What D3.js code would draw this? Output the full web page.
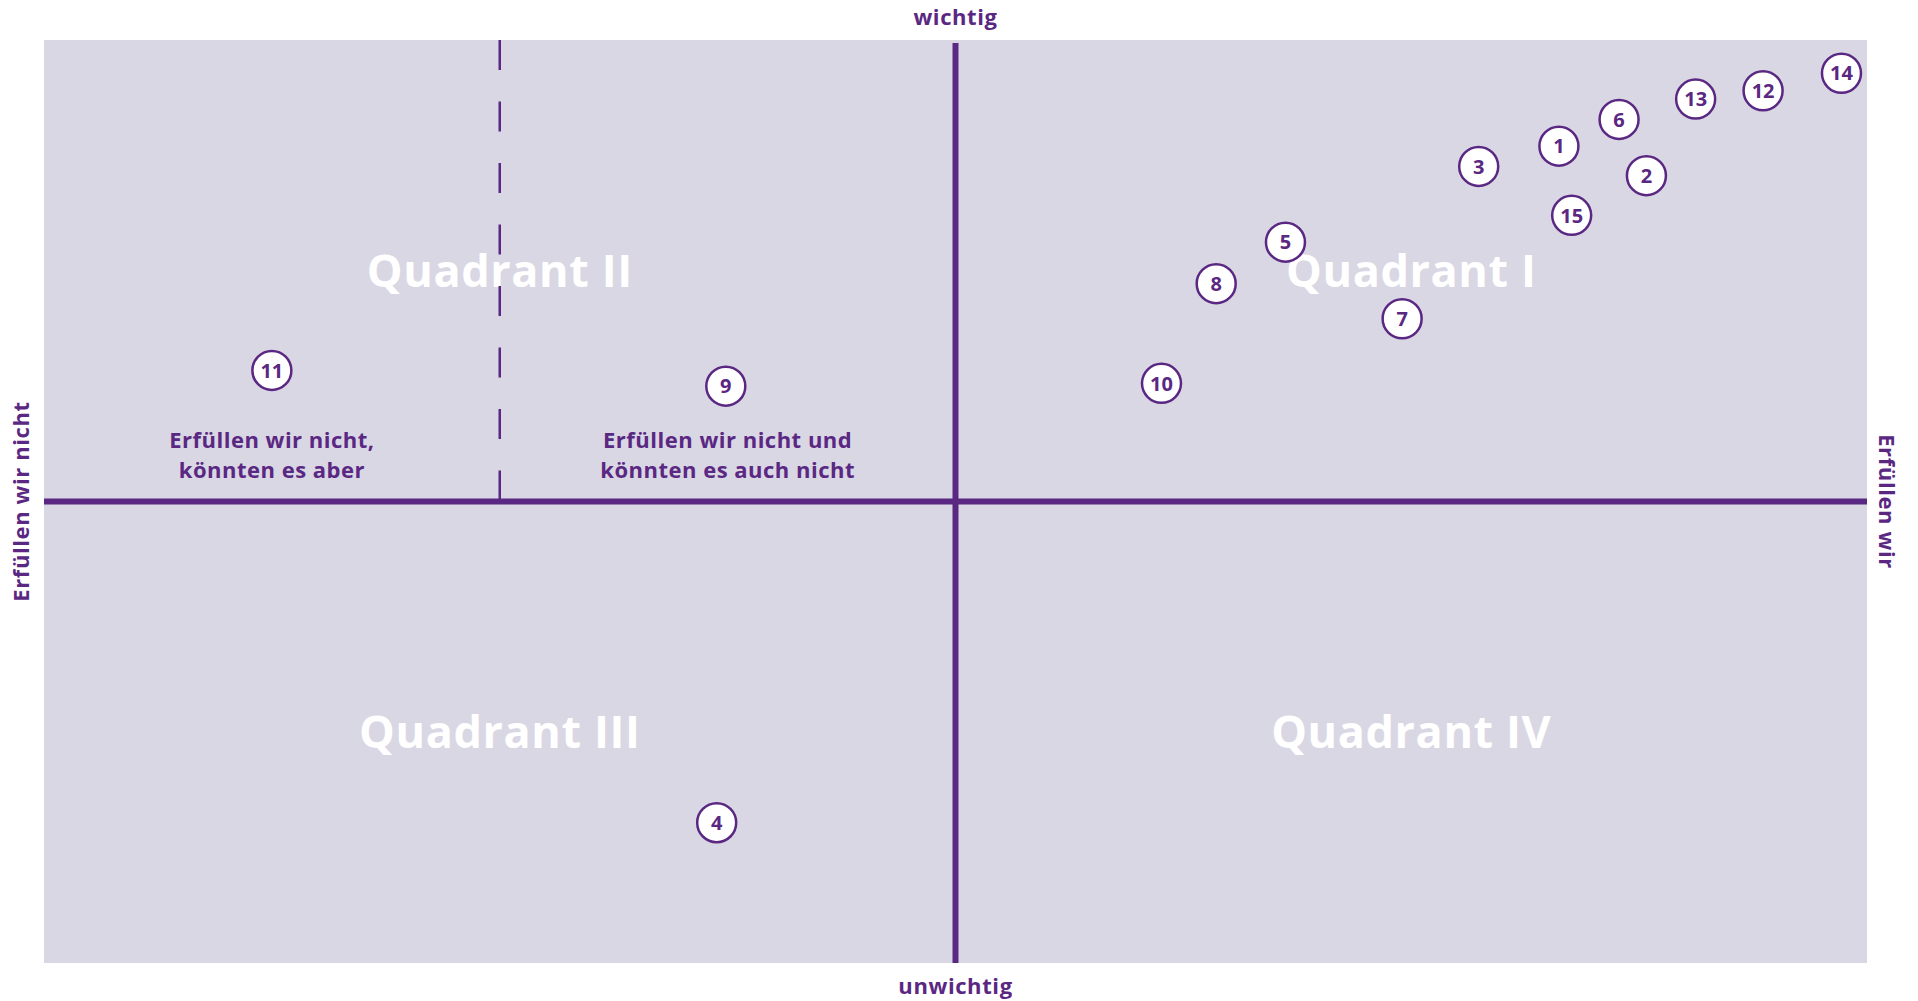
<!DOCTYPE html>
<html>
<head>
<meta charset="utf-8">
<script src="https://cdn.jsdelivr.net/npm/d3@7"></script>
<style>
  html, body { margin: 0; padding: 0; background: #fff; }
  svg { display: block; font-family: "Open Sans", Lato, sans-serif; }
</style>
</head>
<body>
<div id="vis"></div>
<script>
var width = 1918;
var height = 1001;
var purple = "#5a2883";
var bg = "#d9d7e3";

// item numbers and their position (0..100 on both axes, 50 = centre lines)
var ids      = [1, 2, 3, 4, 5, 6, 7, 8, 9, 10, 11, 12, 13, 14, 15];
var fulfil   = [83.1, 87.9, 78.7, 36.9, 68.1, 86.4, 74.5, 64.3, 37.4, 61.3, 12.5, 94.3, 90.6, 98.6, 83.8];
var importance = [88.5, 85.3, 86.3, 15.2, 78.1, 91.4, 69.8, 73.6, 62.5, 62.8, 64.2, 94.5, 93.6, 96.4, 81.0];

var quadrants = [
  {name: "Quadrant I", x: 75, y: 75},
  {name: "Quadrant II", x: 25, y: 75},
  {name: "Quadrant III", x: 25, y: 25},
  {name: "Quadrant IV", x: 75, y: 25}
];
var notes = [
  {lines: ["Erfüllen wir nicht,", "könnten es aber"], x: 12.5},
  {lines: ["Erfüllen wir nicht und", "könnten es auch nicht"], x: 37.5}
];

var x = d3.scaleLinear().domain([0, 100]).range([44, 1867]);
var y = d3.scaleLinear().domain([0, 100]).range([963, 40]);

var data = ids.map((id, i) => ({id: id, fx: fulfil[i], fy: importance[i]}));

const svg = d3.select("#vis")
  .append("svg")
  .attr("width", width)
  .attr("height", height);

svg.append("rect")
  .attr("x", x(0))
  .attr("y", y(100))
  .attr("width", x(100) - x(0))
  .attr("height", y(0) - y(100))
  .attr("fill", bg);

// quadrant names
svg.append("g")
  .selectAll("text")
  .data(quadrants)
  .enter()
  .append("text")
  .attr("x", d => x(d.x))
  .attr("y", d => y(d.y))
  .attr("dy", "0.36em")
  .attr("text-anchor", "middle")
  .attr("fill", "#fff")
  .style("font-size", "45px")
  .style("font-weight", 700)
  .style("letter-spacing", "0.6px")
  .text(d => d.name);

// dashed split of quadrant II
svg.append("line")
  .attr("x1", x(25)).attr("x2", x(25))
  .attr("y1", y(100)).attr("y2", y(50))
  .attr("stroke", purple)
  .attr("stroke-width", 2.5)
  .attr("stroke-dasharray", "30 31.5");

// main axes
svg.append("line")
  .attr("x1", x(0)).attr("x2", x(100))
  .attr("y1", y(50)).attr("y2", y(50))
  .attr("stroke", purple)
  .attr("stroke-width", 6);
svg.append("line")
  .attr("x1", x(50)).attr("x2", x(50))
  .attr("y1", y(100) + 3).attr("y2", y(0))
  .attr("stroke", purple)
  .attr("stroke-width", 6);

// notes in quadrant II
var note = svg.append("g")
  .selectAll("text")
  .data(notes)
  .enter()
  .append("text")
  .attr("text-anchor", "middle")
  .attr("fill", purple)
  .style("font-size", "22px")
  .style("font-weight", 700)
  .style("letter-spacing", "0.5px");
note.selectAll("tspan")
  .data(d => d.lines.map((l, i) => ({text: l, x: d.x, i: i})))
  .enter()
  .append("tspan")
  .attr("x", d => x(d.x))
  .attr("y", d => 448 + d.i * 30)
  .text(d => d.text);

// numbered items
var item = svg.append("g")
  .selectAll("g")
  .data(data)
  .enter()
  .append("g")
  .attr("transform", d => `translate(${x(d.fx)},${y(d.fy)})`);
item.append("circle")
  .attr("r", 19.5)
  .attr("fill", "#fff")
  .attr("stroke", purple)
  .attr("stroke-width", 2.5);
item.append("text")
  .attr("text-anchor", "middle")
  .attr("dy", "0.36em")
  .attr("fill", purple)
  .style("font-size", "20px")
  .style("font-weight", 700)
  .text(d => d.id);

// axis captions
var cap = svg.append("g")
  .attr("fill", purple)
  .style("font-size", "22px")
  .style("font-weight", 700)
  .style("letter-spacing", "0.6px")
  .attr("text-anchor", "middle");
cap.append("text")
  .attr("x", x(50)).attr("y", 17).attr("dy", "0.35em")
  .text("wichtig");
cap.append("text")
  .attr("x", x(50)).attr("y", 986).attr("dy", "0.35em")
  .text("unwichtig");
cap.append("text")
  .attr("transform", `translate(21,${y(50)}) rotate(-90)`)
  .attr("dy", "0.35em")
  .text("Erfüllen wir nicht");
cap.append("text")
  .attr("transform", `translate(1887,${y(50)}) rotate(90)`)
  .attr("dy", "0.35em")
  .text("Erfüllen wir");
</script>
</body>
</html>
